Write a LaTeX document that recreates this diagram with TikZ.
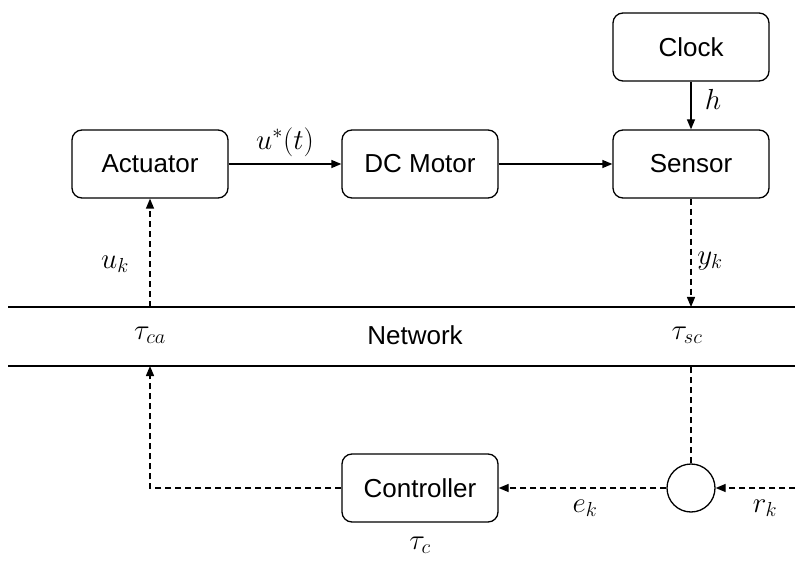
\RequirePackage{fix-cm}
\documentclass[tikz,border=0pt]{standalone}
\usepackage{fontspec}
\setmainfont{Liberation Sans}
\usetikzlibrary{arrows.meta}
\begin{document}
\begin{tikzpicture}[x=1pt,y=-1pt,
  blk/.style={draw, line width=1.3pt, rounded corners=10pt, minimum width=156pt, minimum height=68pt, inner sep=0pt, font=\fontsize{26}{30}\selectfont},
  lbl/.style={font=\fontsize{26}{30}\selectfont, inner sep=0pt},
  mlbl/.style={font=\fontsize{29}{33}\selectfont, inner sep=0pt},
  arr/.style={line width=1.3pt, -{Triangle[length=10pt,width=8pt]}},
  dsh/.style={arr, dash pattern=on 6pt off 4pt},
  dshline/.style={line width=1.3pt, dash pattern=on 6pt off 4pt},
  net/.style={line width=2.8pt}]
\useasboundingbox (0,0) rectangle (795,561);
% blocks
\node[blk] (act) at (150,164) {Actuator};
\node[blk] (dc) at (420,164) {DC Motor};
\node[blk] (sen) at (691,164) {Sensor};
\node[blk] (clk) at (691,47) {Clock};
\node[blk] (ctl) at (420,488) {Controller};
\node[draw, circle, line width=1.3pt, minimum size=48pt, inner sep=0pt] (sum) at (691,488) {};
% network lines
\coordinate (ntl) at (8,307);
\coordinate (ntr) at (795,307);
\coordinate (nbl) at (8,366);
\coordinate (nbr) at (795,366);
\draw[net] (ntl) -- (ntr);
\draw[net] (nbl) -- (nbr);
\coordinate (nt1) at (150,307);
\coordinate (nt2) at (691,307);
\coordinate (nb1) at (150,366);
\coordinate (nb2) at (691,366);
\coordinate (rin) at (795,488);
% labels
\node[mlbl] (lu) at (115,264) {$u_k$};
\node[mlbl] (lus) at (285,142) {$u^{*}(t)$};
\node[mlbl] (lh) at (713,99) {$h$};
\node[mlbl] (ly) at (710,261) {$y_k$};
\node[mlbl] (ltca) at (150,335) {$\tau_{ca}$};
\node[lbl] (lnet) at (415,335) {Network};
\node[mlbl] (ltsc) at (687,335) {$\tau_{sc}$};
\node[mlbl] (le) at (585,508) {$e_k$};
\node[mlbl] (lr) at (765,508) {$r_k$};
\node[mlbl] (ltc) at (420,545) {$\tau_c$};
% connectors
\draw[arr] (act) -- (dc);
\draw[arr] (dc) -- (sen);
\draw[arr] (clk) -- (sen);
\draw[dsh] (nt1) -- (act.south);
\draw[dsh] (sen.south) -- (nt2);
\draw[dshline] (sum.north) -- (nb2);
\draw[dsh] (sum.west) -- (ctl.east);
\draw[dsh] (ctl.west) -| (nb1);
\draw[dsh] (rin) -- (sum.east);
\end{tikzpicture}
\end{document}
